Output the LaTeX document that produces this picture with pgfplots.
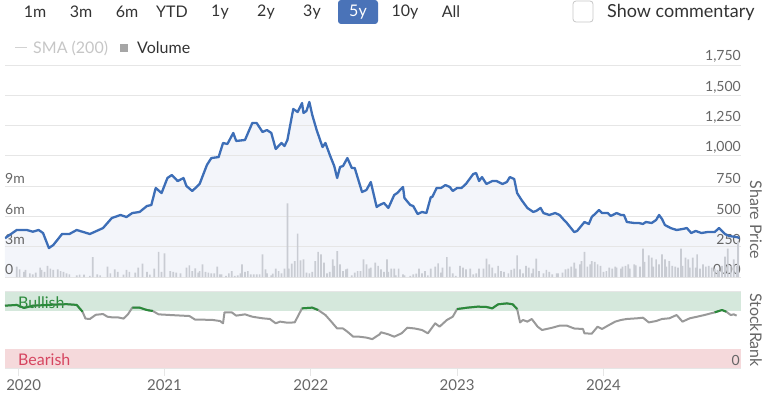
\documentclass[border=0pt]{standalone}
\usepackage{pgfplots}
\pgfplotsset{compat=1.18}
\usepackage{fontspec}
\setmainfont{Lato}
\definecolor{pricel}{HTML}{3D6EB7}
\definecolor{pricef}{HTML}{F3F5FA}
\definecolor{gridc}{HTML}{E6E6E6}
\definecolor{volc}{HTML}{C9CCD3}
\definecolor{lblc}{HTML}{666666}
\definecolor{txtc}{HTML}{333333}
\definecolor{bullband}{HTML}{D5E8DC}
\definecolor{bearband}{HTML}{F5D9DB}
\definecolor{bullt}{HTML}{2E8B3E}
\definecolor{beart}{HTML}{D64560}
\definecolor{rankg}{HTML}{999999}
\definecolor{rankgreen}{HTML}{2A8A3A}
\definecolor{btnblue}{HTML}{4A73B8}
\newcommand\tickfont{\fontsize{14}{16}\selectfont}
\newcommand\btnfont{\fontsize{16}{18}\selectfont}
\begin{document}
\begin{tikzpicture}[x=1pt,y=1pt]
\useasboundingbox (0,0) rectangle (764,392);
% top buttons
\fill[btnblue, rounded corners=3pt] (338,368) rectangle (378,392);
\begin{scope}[every node/.style={font=\btnfont, text=txtc, inner sep=0pt}]
\node at (35,380) {1m};
\node at (81,380) {3m};
\node at (127,380) {6m};
\node at (172,380) {YTD};
\node at (220,380) {1y};
\node at (266,380) {2y};
\node at (312,380) {3y};
\node[text=white] at (358,380) {5y};
\node at (405,380) {10y};
\node at (451,380) {All};
\end{scope}
\draw[gray!45, rounded corners=3pt, line width=0.8pt] (573,370) rectangle (593,391);
\node[anchor=west, font=\fontsize{18}{20}\selectfont, text=txtc, inner sep=0pt] at (607,380) {Show commentary};
% legend
\draw[gray!35, line width=1pt] (15,344) -- (27,344);
\node[anchor=west, font=\fontsize{16}{18}\selectfont, text=gray!45, inner sep=0pt] at (33,344) {SMA (200)};
\fill[gray!70] (120,340) rectangle (128,348);
\node[anchor=west, font=\fontsize{16}{18}\selectfont, text=txtc, inner sep=0pt] at (137,344) {Volume};
% stockrank bands and labels
\fill[bullband] (5,81) rectangle (741,100);
\fill[bearband] (5,24) rectangle (741,43);
\draw[gridc, line width=1pt] (5,101) -- (741,101);
\node[anchor=west, font=\fontsize{16}{18}\selectfont, text=bullt, inner sep=0pt] at (18,89) {Bullish};
\node[anchor=west, font=\fontsize{16}{18}\selectfont, text=beart, inner sep=0pt] at (18,32) {Bearish};
\node[anchor=east, font=\tickfont, text=lblc, inner sep=0pt] at (740,32) {0};
\node[rotate=-90, font=\fontsize{16}{18}\selectfont, text=lblc] at (756,172) {Share Price};
\node[rotate=-90, font=\fontsize{16}{18}\selectfont, text=lblc] at (756,62) {StockRank};

% price area + grid + right labels
\begin{axis}[at={(5pt,115pt)}, anchor=south west, scale only axis,
  width=736pt, height=212pt, xmin=2019.91, xmax=2024.94, ymin=0, ymax=1750,
  axis x line=none, axis y line*=right, y axis line style={draw=none},
  ytick={0,250,...,1750},
  yticklabels={0.00,250,500,750,{1,000},{1,250},{1,500},{1,750}},
  ymajorgrids, grid style={gridc, line width=0.8pt}, major tick length=0pt,
  yticklabel style={anchor=south east, text=lblc, font=\tickfont, inner sep=0pt, yshift=2pt},
  axis on top]
\addplot[draw=none, fill=pricef] coordinates {
(2019.91,320) (2019.99,388) (2020.06,388) (2020.10,374) (2020.14,388) (2020.17,363)
(2020.21,239) (2020.24,264) (2020.30,355) (2020.35,355) (2020.40,388) (2020.49,355)
(2020.58,404) (2020.64,487) (2020.70,512) (2020.74,495) (2020.78,528) (2020.83,537)
(2020.88,586) (2020.91,594) (2020.94,735) (2020.98,693) (2021.02,817) (2021.05,842)
(2021.09,792) (2021.13,817) (2021.15,751) (2021.19,710) (2021.24,768) (2021.29,925)
(2021.32,982) (2021.37,990) (2021.40,1106) (2021.43,1098) (2021.47,1189) (2021.49,1123)
(2021.55,1131) (2021.60,1271) (2021.63,1271) (2021.67,1197) (2021.70,1213) (2021.73,1189)
(2021.76,1057) (2021.80,1106) (2021.82,1081) (2021.84,1131) (2021.88,1387) (2021.91,1362)
(2021.94,1436) (2021.95,1354) (2021.97,1370) (2021.99,1445) (2022.01,1337) (2022.04,1213)
(2022.08,1073) (2022.10,1106) (2022.13,1007) (2022.16,916) (2022.18,817) (2022.20,908)
(2022.22,916) (2022.25,982) (2022.28,900) (2022.30,900) (2022.35,702) (2022.38,718)
(2022.41,784) (2022.45,578) (2022.47,594) (2022.50,611) (2022.53,570) (2022.57,677)
(2022.59,693) (2022.63,743) (2022.64,652) (2022.68,594) (2022.70,586) (2022.73,520)
(2022.76,537) (2022.79,528) (2022.82,660) (2022.83,660) (2022.86,735) (2022.89,735)
(2022.92,759) (2022.95,743) (2022.97,710) (2023.00,735) (2023.03,735) (2023.06,768)
(2023.11,850) (2023.13,858) (2023.15,792) (2023.17,825) (2023.20,768) (2023.24,792)
(2023.27,792) (2023.31,768) (2023.34,784) (2023.36,825) (2023.39,809) (2023.41,693)
(2023.44,636) (2023.48,570) (2023.52,537) (2023.54,545) (2023.57,570) (2023.59,528)
(2023.63,512) (2023.67,528) (2023.70,512) (2023.73,471) (2023.75,446) (2023.80,371)
(2023.82,380) (2023.87,454) (2023.90,438) (2023.92,495) (2023.97,553) (2023.99,528)
(2024.03,528) (2024.05,504) (2024.09,528) (2024.12,512) (2024.14,512) (2024.16,454)
(2024.21,446) (2024.24,446) (2024.27,438) (2024.29,454) (2024.33,446) (2024.36,471)
(2024.38,512) (2024.40,479) (2024.42,429) (2024.46,404) (2024.50,388) (2024.54,396)
(2024.57,404) (2024.60,363) (2024.63,380) (2024.67,363) (2024.71,371) (2024.76,371)
(2024.79,404) (2024.83,355) (2024.86,338) (2024.91,330) (2024.93,322)
} \closedcycle;
\end{axis}

% volume bars
\begin{axis}[at={(5pt,115pt)}, anchor=south west, scale only axis,
  width=736pt, height=212pt, xmin=2019.91, xmax=2024.94, ymin=0, ymax=21,
  axis x line=none, axis y line*=left, y axis line style={draw=none},
  ytick={0,3,6,9}, yticklabels={0,3m,6m,9m}, major tick length=0pt,
  yticklabel style={anchor=south west, text=lblc, font=\tickfont, inner sep=0pt, yshift=2pt}]
\addplot[ybar, bar width=1.7pt, fill=volc, draw=none] coordinates {
(2019.99,1.02) (2020.01,0.76) (2020.04,0.5) (2020.05,0.7) (2020.08,0.36) (2020.10,0.26)
(2020.12,0.43) (2020.15,0.92) (2020.16,0.7) (2020.18,0.5) (2020.20,1.09) (2020.22,0.83)
(2020.24,0.7) (2020.27,0.76) (2020.29,0.59) (2020.31,0.5) (2020.33,0.36) (2020.35,0.26)
(2020.40,0.17) (2020.42,0.23) (2020.45,0.23) (2020.49,0.1) (2020.51,1.98) (2020.54,0.26)
(2020.56,0.17) (2020.61,1.02) (2020.63,0.36) (2020.66,0.76) (2020.68,0.5) (2020.72,0.23)
(2020.74,0.7) (2020.76,0.5) (2020.80,0.43) (2020.82,0.92) (2020.85,1.32) (2020.88,0.5)
(2020.90,0.23) (2020.93,0.83) (2020.96,2.48) (2020.98,0.5) (2021.00,2.35) (2021.04,0.59)
(2021.06,0.5) (2021.08,0.43) (2021.11,0.36) (2021.15,0.92) (2021.17,1.16) (2021.19,0.59)
(2021.21,0.86) (2021.23,0.43) (2021.24,0.59) (2021.26,1.25) (2021.28,0.5) (2021.30,0.43)
(2021.32,0.36) (2021.34,0.36) (2021.36,1.02) (2021.38,0.26) (2021.39,0.26) (2021.42,0.1)
(2021.44,0.36) (2021.46,0.59) (2021.48,0.1) (2021.50,0.17) (2021.52,0.36) (2021.53,1.25)
(2021.55,0.5) (2021.57,0.59) (2021.59,0.26) (2021.61,0.26) (2021.63,0.26) (2021.65,0.26)
(2021.67,2.24) (2021.69,0.76) (2021.70,0.36) (2021.73,0.17) (2021.74,0.33) (2021.76,0.83)
(2021.78,0.59) (2021.80,0.36) (2021.82,0.83) (2021.84,7.29) (2021.85,0.83) (2021.87,1.32)
(2021.89,1.58) (2021.91,4.29) (2021.93,1.65) (2021.95,1.75) (2021.97,0.43) (2021.99,0.36)
(2022.01,0.5) (2022.03,1.58) (2022.05,2.48) (2022.07,2.24) (2022.09,1.42) (2022.11,0.36)
(2022.13,0.5) (2022.15,1.75) (2022.16,1.09) (2022.18,2.57) (2022.20,1.25) (2022.22,0.59)
(2022.24,0.76) (2022.25,0.83) (2022.28,0.17) (2022.30,0.43) (2022.32,0.59) (2022.34,0.59)
(2022.36,1.75) (2022.38,1.25) (2022.40,0.83) (2022.41,0.92) (2022.44,1.42) (2022.46,1.09)
(2022.48,0.76) (2022.50,0.5) (2022.52,1.75) (2022.53,0.5) (2022.55,0.83) (2022.57,0.83)
(2022.58,0.17) (2022.60,0.83) (2022.63,0.26) (2022.64,0.17) (2022.68,0.1) (2022.70,0.26)
(2022.72,0.33) (2022.74,0.83) (2022.76,0.36) (2022.78,0.59) (2022.80,0.17) (2022.82,0.83)
(2022.85,1.02) (2022.87,1.35) (2022.89,0.43) (2022.90,0.92) (2022.93,1.98) (2022.95,1.02)
(2022.97,0.36) (2022.99,0.1) (2023.02,1.09) (2023.04,0.92) (2023.06,0.76) (2023.09,0.83)
(2023.11,0.26) (2023.13,0.36) (2023.15,0.83) (2023.18,0.83) (2023.20,1.82) (2023.22,1.25)
(2023.24,0.92) (2023.26,0.36) (2023.28,1.09) (2023.30,0.59) (2023.32,0.5) (2023.35,0.36)
(2023.37,0.7) (2023.39,0.83) (2023.41,2.15) (2023.43,0.76) (2023.45,0.36) (2023.47,1.09)
(2023.49,0.92) (2023.51,0.36) (2023.52,0.83) (2023.54,1.82) (2023.56,0.59) (2023.59,0.36)
(2023.61,0.7) (2023.63,0.5) (2023.65,0.26) (2023.68,0.36) (2023.69,0.36) (2023.72,0.43)
(2023.74,0.76) (2023.76,0.83) (2023.78,1.02) (2023.80,1.42) (2023.81,0.83) (2023.84,1.25)
(2023.85,1.58) (2023.87,2.48) (2023.89,1.02) (2023.91,1.25) (2023.92,1.58) (2023.94,1.49)
(2023.96,1.25) (2023.98,1.09) (2024.00,0.5) (2024.02,0.59) (2024.04,0.92) (2024.06,0.83)
(2024.08,1.02) (2024.09,0.92) (2024.12,0.83) (2024.13,1.02) (2024.15,1.09) (2024.17,1.25)
(2024.18,0.83) (2024.21,1.25) (2024.22,1.16) (2024.25,1.02) (2024.27,2.81) (2024.28,1.49)
(2024.31,2.15) (2024.33,1.92) (2024.34,1.02) (2024.36,1.75) (2024.38,1.25) (2024.40,2.24)
(2024.42,1.75) (2024.43,1.02) (2024.45,1.58) (2024.47,1.09) (2024.49,1.02) (2024.51,0.92)
(2024.53,2.81) (2024.54,1.09) (2024.56,1.92) (2024.58,1.75) (2024.59,0.92) (2024.61,1.92)
(2024.63,0.92) (2024.64,2.24) (2024.66,0.83) (2024.68,1.25) (2024.70,1.02) (2024.72,1.09)
(2024.74,0.92) (2024.76,0.83) (2024.78,0.7) (2024.79,0.59) (2024.81,1.09) (2024.83,2.02)
(2024.85,2.81) (2024.87,1.09) (2024.89,1.75) (2024.91,1.09) (2024.92,3.5)
};
\end{axis}

% price line
\begin{axis}[at={(5pt,115pt)}, anchor=south west, scale only axis,
  width=736pt, height=212pt, xmin=2019.91, xmax=2024.94, ymin=0, ymax=1750,
  hide axis]
\addplot[pricel, line width=2.3pt, line join=round] coordinates {
(2019.91,320) (2019.99,388) (2020.06,388) (2020.10,374) (2020.14,388) (2020.17,363)
(2020.21,239) (2020.24,264) (2020.30,355) (2020.35,355) (2020.40,388) (2020.49,355)
(2020.58,404) (2020.64,487) (2020.70,512) (2020.74,495) (2020.78,528) (2020.83,537)
(2020.88,586) (2020.91,594) (2020.94,735) (2020.98,693) (2021.02,817) (2021.05,842)
(2021.09,792) (2021.13,817) (2021.15,751) (2021.19,710) (2021.24,768) (2021.29,925)
(2021.32,982) (2021.37,990) (2021.40,1106) (2021.43,1098) (2021.47,1189) (2021.49,1123)
(2021.55,1131) (2021.60,1271) (2021.63,1271) (2021.67,1197) (2021.70,1213) (2021.73,1189)
(2021.76,1057) (2021.80,1106) (2021.82,1081) (2021.84,1131) (2021.88,1387) (2021.91,1362)
(2021.94,1436) (2021.95,1354) (2021.97,1370) (2021.99,1445) (2022.01,1337) (2022.04,1213)
(2022.08,1073) (2022.10,1106) (2022.13,1007) (2022.16,916) (2022.18,817) (2022.20,908)
(2022.22,916) (2022.25,982) (2022.28,900) (2022.30,900) (2022.35,702) (2022.38,718)
(2022.41,784) (2022.45,578) (2022.47,594) (2022.50,611) (2022.53,570) (2022.57,677)
(2022.59,693) (2022.63,743) (2022.64,652) (2022.68,594) (2022.70,586) (2022.73,520)
(2022.76,537) (2022.79,528) (2022.82,660) (2022.83,660) (2022.86,735) (2022.89,735)
(2022.92,759) (2022.95,743) (2022.97,710) (2023.00,735) (2023.03,735) (2023.06,768)
(2023.11,850) (2023.13,858) (2023.15,792) (2023.17,825) (2023.20,768) (2023.24,792)
(2023.27,792) (2023.31,768) (2023.34,784) (2023.36,825) (2023.39,809) (2023.41,693)
(2023.44,636) (2023.48,570) (2023.52,537) (2023.54,545) (2023.57,570) (2023.59,528)
(2023.63,512) (2023.67,528) (2023.70,512) (2023.73,471) (2023.75,446) (2023.80,371)
(2023.82,380) (2023.87,454) (2023.90,438) (2023.92,495) (2023.97,553) (2023.99,528)
(2024.03,528) (2024.05,504) (2024.09,528) (2024.12,512) (2024.14,512) (2024.16,454)
(2024.21,446) (2024.24,446) (2024.27,438) (2024.29,454) (2024.33,446) (2024.36,471)
(2024.38,512) (2024.40,479) (2024.42,429) (2024.46,404) (2024.50,388) (2024.54,396)
(2024.57,404) (2024.60,363) (2024.63,380) (2024.67,363) (2024.71,371) (2024.76,371)
(2024.79,404) (2024.83,355) (2024.86,338) (2024.91,330) (2024.93,322)
};
\end{axis}

% StockRank panel
\begin{axis}[at={(5pt,24pt)}, anchor=south west, scale only axis,
  width=736pt, height=76pt, xmin=2019.91, xmax=2024.94, ymin=0, ymax=100,
  axis y line=none, axis x line*=bottom, x axis line style={gridc, line width=1pt, -},
  xtick={2020,2021,2022,2023,2024},
  xticklabels={{\hspace*{11pt}2020},2021,2022,2023,2024},
  xtick align=outside, major tick length=8pt, xtick style={gridc, line width=1pt},
  xticklabel style={text=lblc, font=\fontsize{15}{17}\selectfont, inner sep=0pt, yshift=-3pt}]
\addplot[rankg, line width=2pt, line join=round] coordinates {
(2019.91,82) (2019.99,83) (2020.04,79) (2020.10,82) (2020.20,83) (2020.33,84) (2020.40,83)
(2020.44,74) (2020.46,65) (2020.49,64.5) (2020.53,70) (2020.58,71) (2020.61,67.5)
(2020.64,66.7) (2020.68,66.7) (2020.72,65) (2020.75,70.6) (2020.78,79.4) (2020.83,79.4)
(2020.88,76.3) (2020.92,75) (2020.96,70.6) (2021.04,69.7) (2021.12,68.9) (2021.17,68.4)
(2021.21,63.6) (2021.26,63.6) (2021.33,63.2) (2021.38,61.8) (2021.40,58.8) (2021.41,73.2)
(2021.46,73.2) (2021.49,68.9) (2021.55,70.6) (2021.60,67.5) (2021.67,65.4) (2021.72,64.5)
(2021.76,58.8) (2021.79,61) (2021.84,59.6) (2021.89,60) (2021.94,78.5) (2022.01,79.4)
(2022.05,76.3) (2022.10,69.7) (2022.14,61) (2022.18,52) (2022.22,52) (2022.25,47.8)
(2022.29,41.2) (2022.33,41.2) (2022.38,40) (2022.42,38) (2022.47,44.3) (2022.48,47)
(2022.53,44.3) (2022.57,41.2) (2022.62,45.6) (2022.66,53) (2022.71,52) (2022.76,50)
(2022.80,45.6) (2022.85,58.8) (2022.88,54.4) (2022.93,63.2) (2022.97,67.5) (2023.00,77.6)
(2023.07,79.4) (2023.14,80.7) (2023.20,80.3) (2023.24,78.5) (2023.28,83.8) (2023.34,85)
(2023.38,83.8) (2023.41,77.6) (2023.43,60) (2023.45,63.2) (2023.48,61) (2023.51,64.5)
(2023.55,54.4) (2023.58,50) (2023.65,53) (2023.70,55.7) (2023.75,55.7) (2023.80,52)
(2023.86,51.3) (2023.87,45.6) (2023.92,45.2) (2023.96,54.4) (2023.99,51.3) (2024.03,55.7)
(2024.08,61) (2024.12,63.2) (2024.16,64.5) (2024.23,65.4) (2024.27,66.2) (2024.31,60)
(2024.36,61.8) (2024.40,64.5) (2024.45,65.4) (2024.50,69.7) (2024.54,61) (2024.59,65.4)
(2024.64,67.5) (2024.69,69.7) (2024.76,73.2) (2024.81,76.3) (2024.84,74) (2024.87,69.7)
(2024.89,70.6) (2024.91,68.9)
};
\addplot[rankgreen, line width=2pt, line join=round] coordinates {
(2019.91,82) (2019.99,83) (2020.04,79) (2020.10,82) (2020.20,83) (2020.33,84) (2020.40,83) (2020.44,74)};
\addplot[rankgreen, line width=2pt, line join=round] coordinates {
(2020.78,79.4) (2020.83,79.4) (2020.88,76.3) (2020.92,75)};
\addplot[rankgreen, line width=2pt, line join=round] coordinates {
(2021.94,78.5) (2022.01,79.4) (2022.05,76.3)};
\addplot[rankgreen, line width=2pt, line join=round] coordinates {
(2023.00,77.6) (2023.07,79.4) (2023.14,80.7) (2023.20,80.3) (2023.24,78.5) (2023.28,83.8)
(2023.34,85) (2023.38,83.8) (2023.41,77.6)};
\addplot[rankgreen, line width=2pt, line join=round] coordinates {
(2024.76,73.2) (2024.81,76.3) (2024.84,74)};
\end{axis}
\end{tikzpicture}
\end{document}
